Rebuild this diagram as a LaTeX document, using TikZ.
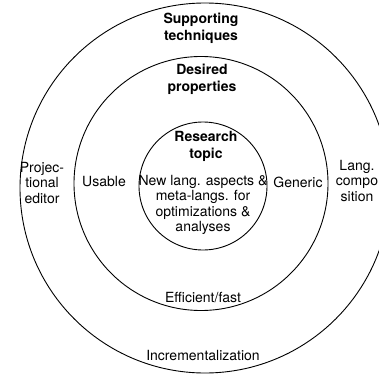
\documentclass[tikz,border=0pt]{standalone}
\usepackage{fontspec}
\setmainfont{TeX Gyre Heros}

\tikzset{
  ring/.style={circle, draw=black, line width=0.9pt, inner sep=0pt},
  lbl/.style={align=center, inner sep=0pt, font=\fontsize{14}{15.6}\selectfont},
  head/.style={align=center, inner sep=0pt, font=\fontsize{14}{17}\selectfont\bfseries},
}

\begin{document}
\begin{tikzpicture}[x=1pt,y=-1pt]
                \useasboundingbox (0,0) rectangle (379,374);
                % the three rings, outermost first
                \foreach \d/\cx/\cy/\name in {370/205/188/support, 254/201/183.5/props, 128/203/186/topic}
                  {
                    \node[ring, minimum size=\d pt] (\name) at (\cx,\cy) {};
                  }
                % headings of the rings
                \node[head] (supporthead) at (201,28) {Supporting\\techniques};
                \node[head] (propshead) at (202,79) {Desired\\properties};
                \node[head] (topichead) at (206,146) {Research\\topic};
                % centre
                \node[lbl] (topictext) at (203,205) {New lang. aspects \&\\meta-langs. for\\optimizations \&\\analyses};
                % desired properties
                \node[lbl] (usable) at (104,182) {Usable};
                \node[lbl] (generic) at (298,182) {Generic};
                \node[lbl] (efficient) at (203,298) {Efficient/fast};
                % supporting techniques
                \node[lbl] (projectional) at (42,183) {Projec-\\tional\\editor};
                \node[lbl] (composition) at (357,181) {Lang.\\compo\\sition};
                \node[lbl] (incremental) at (203,355) {Incrementalization};
              \end{tikzpicture}
\end{document}
